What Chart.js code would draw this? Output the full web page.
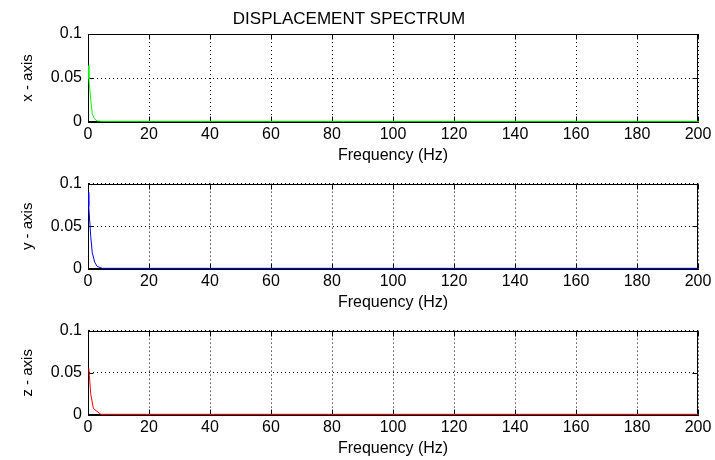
<!DOCTYPE html>
<html>
<head>
<meta charset="utf-8">
<script src="https://cdn.jsdelivr.net/npm/chart.js@4.4.1/dist/chart.umd.min.js"></script>
<style>
  html, body { margin: 0; padding: 0; background: #fff; overflow: hidden; }
  canvas { position: absolute; left: 0; }
</style>
</head>
<body>
<canvas id="cx" width="715" height="168" style="top:0px"></canvas>
<canvas id="cy" width="715" height="147" style="top:168px"></canvas>
<canvas id="cz" width="715" height="146" style="top:315px"></canvas>
<script>
// spectrum values (Hz / amplitude)
const xFreq = [0.2, 0.3, 0.9, 1.4, 2.0, 3.0, 4.5, 200];
const xAmp = [0.064, 0.049, 0.025, 0.0096, 0.004, 0.0012, 0.0008, 0.0008];

const yFreq = [0.2, 0.25, 0.9, 1.4, 2.2, 3.0, 4.7, 200];
const yAmp = [0.0897, 0.073, 0.038, 0.019, 0.008, 0.003, 0.0008, 0.0008];

const zFreq = [0.3, 0.35, 0.9, 1.75, 2.0, 4.2, 200];
const zAmp = [0.055, 0.051, 0.025, 0.008, 0.007, 0.0008, 0.0008];

const freqTicks = [0, 20, 40, 60, 80, 100, 120, 140, 160, 180, 200];
const ampTicks = [0, 0.05, 0.1];

const FONT = "'Liberation Sans', Arial, sans-serif";

// MATLAB-like box with inward tick marks
const framePlugin = {
  id: 'frame',
  beforeDatasetsDraw(chart) {
    const { ctx, chartArea: a, scales: { x, y } } = chart;
    const L = Math.round(a.left) + 0.5, R = Math.round(a.right) - 0.5;
    const T = Math.round(a.top) + 0.5, B = Math.round(a.bottom) - 0.5;
    ctx.save();
    ctx.strokeStyle = '#000';
    ctx.lineWidth = 1;
    ctx.setLineDash([]);
    ctx.strokeRect(L, T, R - L, B - T);
    ctx.beginPath();
    freqTicks.forEach(v => {
      const px = Math.round(x.getPixelForValue(v)) + 0.5;
      ctx.moveTo(px, B); ctx.lineTo(px, B - 5);
      ctx.moveTo(px, T); ctx.lineTo(px, T + 5);
    });
    ampTicks.forEach(v => {
      const py = Math.round(y.getPixelForValue(v)) + 0.5;
      ctx.moveTo(L, py); ctx.lineTo(L + 5, py);
      ctx.moveTo(R, py); ctx.lineTo(R - 5, py);
    });
    ctx.stroke();
    ctx.restore();
  }
};

function makeChart(id, freq, amp, color, yLabel, withTitle, padTop) {
  const points = freq.map((f, i) => ({ x: f, y: amp[i] }));
  return new Chart(document.getElementById(id), {
    type: 'line',
    data: {
      datasets: [{
        data: points,
        borderColor: color,
        borderWidth: 1,
        pointRadius: 0,
        tension: 0,
        fill: false
      }]
    },
    options: {
      responsive: false,
      animation: false,
      layout: { padding: { left: 0, right: 17, top: withTitle ? 0 : padTop, bottom: 0 } },
      plugins: {
        legend: { display: false },
        tooltip: { enabled: false },
        title: {
          display: withTitle,
          text: 'DISPLACEMENT SPECTRUM',
          color: '#000',
          font: { family: FONT, size: 17, weight: 'normal' },
          padding: { top: 9, bottom: 4.6 }
        }
      },
      scales: {
        x: {
          type: 'linear',
          min: 0,
          max: 200,
          afterBuildTicks: s => { s.ticks = freqTicks.map(v => ({ value: v })); },
          afterFit: s => { s.height = 46; },
          grid: { color: '#000', lineWidth: 1, drawTicks: false },
          border: { display: true, color: '#000', dash: [1, 3] },
          ticks: { color: '#000', font: { family: FONT, size: 16 }, padding: 3, maxRotation: 0, autoSkip: false },
          title: {
            display: true,
            text: 'Frequency (Hz)',
            color: '#000',
            font: { family: FONT, size: 16 },
            padding: { top: 2, bottom: 2.4 }
          }
        },
        y: {
          min: 0,
          max: 0.1,
          afterBuildTicks: s => { s.ticks = ampTicks.map(v => ({ value: v })); },
          afterFit: s => { s.width = 88; },
          grid: { color: '#000', lineWidth: 1, drawTicks: false },
          border: { display: true, color: '#000', dash: [1, 3] },
          ticks: {
            color: '#000',
            font: { family: FONT, size: 16 },
            padding: 6,
            callback: v => String(+v.toFixed(3))
          },
          title: {
            display: true,
            text: yLabel,
            color: '#000',
            font: { family: FONT, size: 15 },
            padding: { top: 19, bottom: 0 }
          }
        }
      }
    },
    plugins: [framePlugin]
  });
}

makeChart('cx', xFreq, xAmp, '#00ff00', 'x - axis', true, 0);
makeChart('cy', yFreq, yAmp, '#0000ff', 'y - axis', false, 13);
makeChart('cz', zFreq, zAmp, '#ff0000', 'z - axis', false, 12);
</script>
</body>
</html>
